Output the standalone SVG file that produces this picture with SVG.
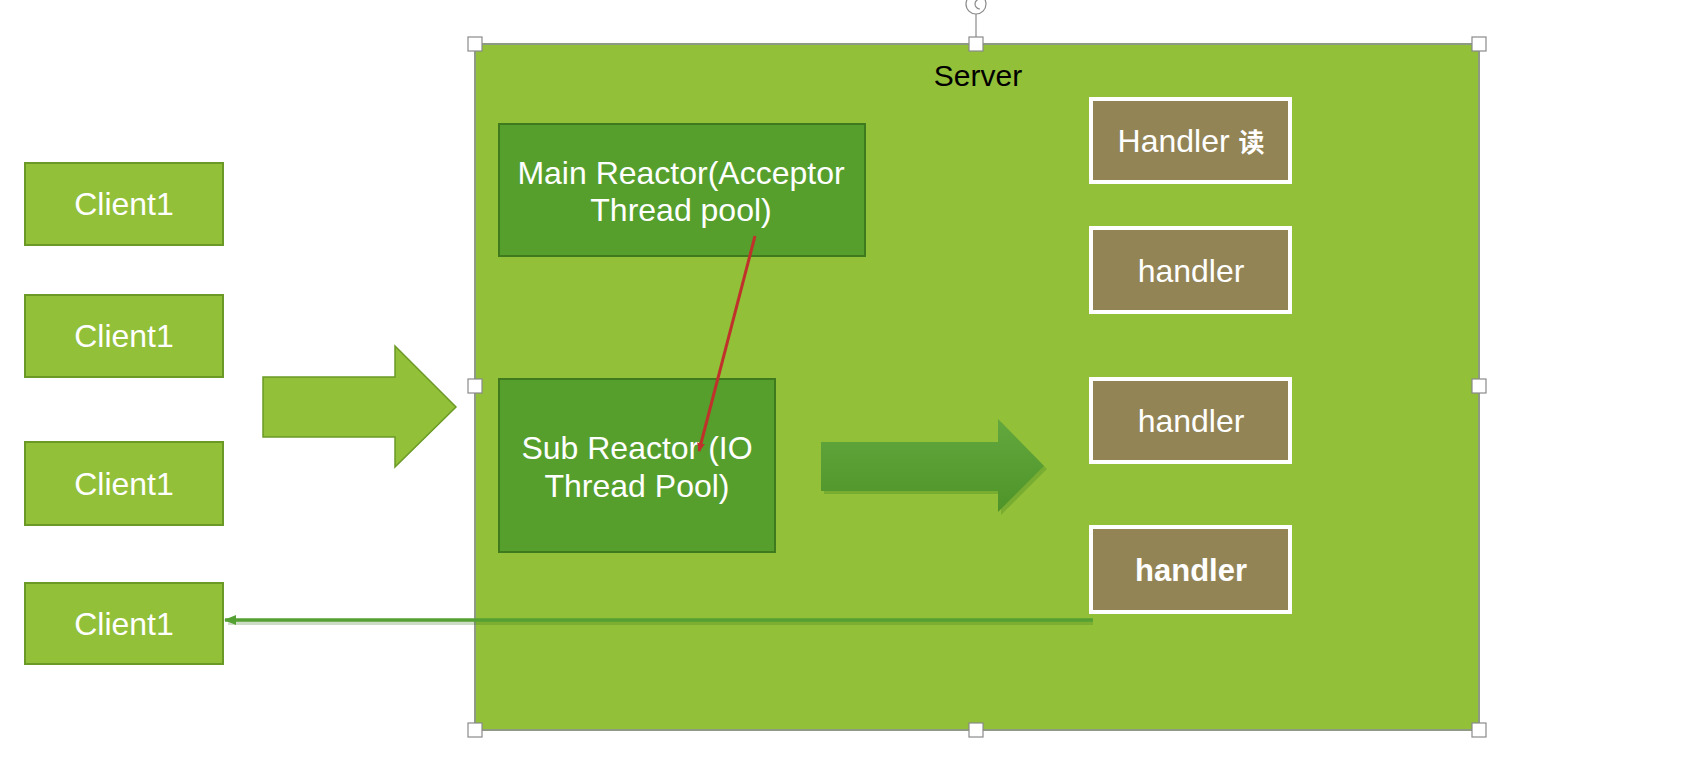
<svg xmlns="http://www.w3.org/2000/svg" width="1682" height="760" viewBox="0 0 1682 760">
<style>
  text { font-family: "Liberation Sans", Arial, sans-serif; text-anchor: middle; }
  .wt { fill: #ffffff; font-size: 32px; }
  .client { fill: #92c038; stroke: #6a9a25; stroke-width: 2; }
  .reactor { fill: #569f2d; stroke: #3f7a1e; stroke-width: 2; }
  .handler { fill: #938456; stroke: #ffffff; stroke-width: 4; }
  .handle { fill: #ffffff; stroke: #8a8a8a; stroke-width: 1.2; }
</style>
<defs>
  <marker id="redHead" markerWidth="10" markerHeight="10" refX="8" refY="5" orient="auto" markerUnits="userSpaceOnUse">
    <path d="M0,1 L9,5 L0,9 Z" fill="#c0312b"/>
  </marker>
  <marker id="greenHead" markerWidth="14" markerHeight="14" refX="11" refY="7" orient="auto" markerUnits="userSpaceOnUse">
    <path d="M0,2 L12,7 L0,12 Z" fill="#55a033"/>
  </marker>
  <linearGradient id="arrowGrad" x1="0" y1="0" x2="0" y2="1">
    <stop offset="0" stop-color="#62a83e"/>
    <stop offset="1" stop-color="#4f9429"/>
  </linearGradient>
</defs>
<rect width="1682" height="760" fill="#ffffff"/>

<g id="server">
  <rect x="475" y="44" width="1004" height="686" fill="#92c038" stroke="#8f9a84" stroke-width="2"/>
  <text x="978" y="86" style="font-size:30px;fill:#000000">Server</text>
</g>

<g id="selection-handles">
  <line x1="976" y1="14" x2="976" y2="44" stroke="#8a8a8a" stroke-width="1.2"/>
  <circle cx="976" cy="4" r="10" class="handle"/>
  <path d="M980,-1 A5,5 0 1 0 980,9" fill="none" stroke="#8a8a8a" stroke-width="1.2"/>
  <rect x="468" y="37" width="14" height="14" class="handle"/>
  <rect x="969" y="37" width="14" height="14" class="handle"/>
  <rect x="1472" y="37" width="14" height="14" class="handle"/>
  <rect x="468" y="379" width="14" height="14" class="handle"/>
  <rect x="1472" y="379" width="14" height="14" class="handle"/>
  <rect x="468" y="723" width="14" height="14" class="handle"/>
  <rect x="969" y="723" width="14" height="14" class="handle"/>
  <rect x="1472" y="723" width="14" height="14" class="handle"/>
</g>

<g id="client1">
  <rect x="25" y="163" width="198" height="82" class="client"/>
  <text x="124" y="215" class="wt">Client1</text>
</g>
<g id="client2">
  <rect x="25" y="295" width="198" height="82" class="client"/>
  <text x="124" y="347" class="wt">Client1</text>
</g>
<g id="client3">
  <rect x="25" y="442" width="198" height="83" class="client"/>
  <text x="124" y="495" class="wt">Client1</text>
</g>
<g id="client4">
  <rect x="25" y="583" width="198" height="81" class="client"/>
  <text x="124" y="635" class="wt">Client1</text>
</g>

<g id="input-arrow">
  <path d="M263,377 L395,377 L395,346 L456,407 L395,467 L395,437 L263,437 Z" fill="#92c038" stroke="#6a9a25" stroke-width="1.5"/>
</g>

<g id="main-reactor">
  <rect x="499" y="124" width="366" height="132" class="reactor"/>
  <text x="681" y="184" class="wt">Main Reactor(Acceptor</text>
  <text x="681" y="221" class="wt">Thread pool)</text>
</g>

<g id="sub-reactor">
  <rect x="499" y="379" width="276" height="173" class="reactor"/>
  <text x="637" y="459" class="wt">Sub Reactor (IO</text>
  <text x="637" y="497" class="wt">Thread Pool)</text>
</g>

<g id="dispatch-arrow">
  <path d="M824,445 L1001,445 L1001,422 L1047,469 L1001,515 L1001,494 L824,494 Z" fill="#4a8a28" opacity="0.35"/>
  <path d="M821,442 L998,442 L998,419 L1044,466 L998,512 L998,491 L821,491 Z" fill="url(#arrowGrad)"/>
</g>

<g id="handler-read">
  <rect x="1091" y="99" width="199" height="83" class="handler"/>
  <text x="1191" y="152" class="wt">Handler <tspan style="font-family:'Noto Sans CJK SC',sans-serif;font-size:26px;font-weight:bold">读</tspan></text>
</g>
<g id="handler2">
  <rect x="1091" y="228" width="199" height="84" class="handler"/>
  <text x="1191" y="282" class="wt">handler</text>
</g>
<g id="handler3">
  <rect x="1091" y="379" width="199" height="83" class="handler"/>
  <text x="1191" y="432" class="wt">handler</text>
</g>
<g id="handler4">
  <rect x="1091" y="527" width="199" height="85" class="handler"/>
  <text x="1191" y="581" class="wt" style="font-weight:bold;font-size:31px">handler</text>
</g>

<g id="connectors">
  <line x1="755" y1="236" x2="699" y2="451" stroke="#c0312b" stroke-width="3" marker-end="url(#redHead)"/>
  <line x1="1093" y1="623" x2="228" y2="623" stroke="#3e7a1e" stroke-width="4" opacity="0.25"/>
  <line x1="1093" y1="620" x2="225" y2="620" stroke="#55a033" stroke-width="3.5" marker-end="url(#greenHead)"/>
</g>
</svg>
